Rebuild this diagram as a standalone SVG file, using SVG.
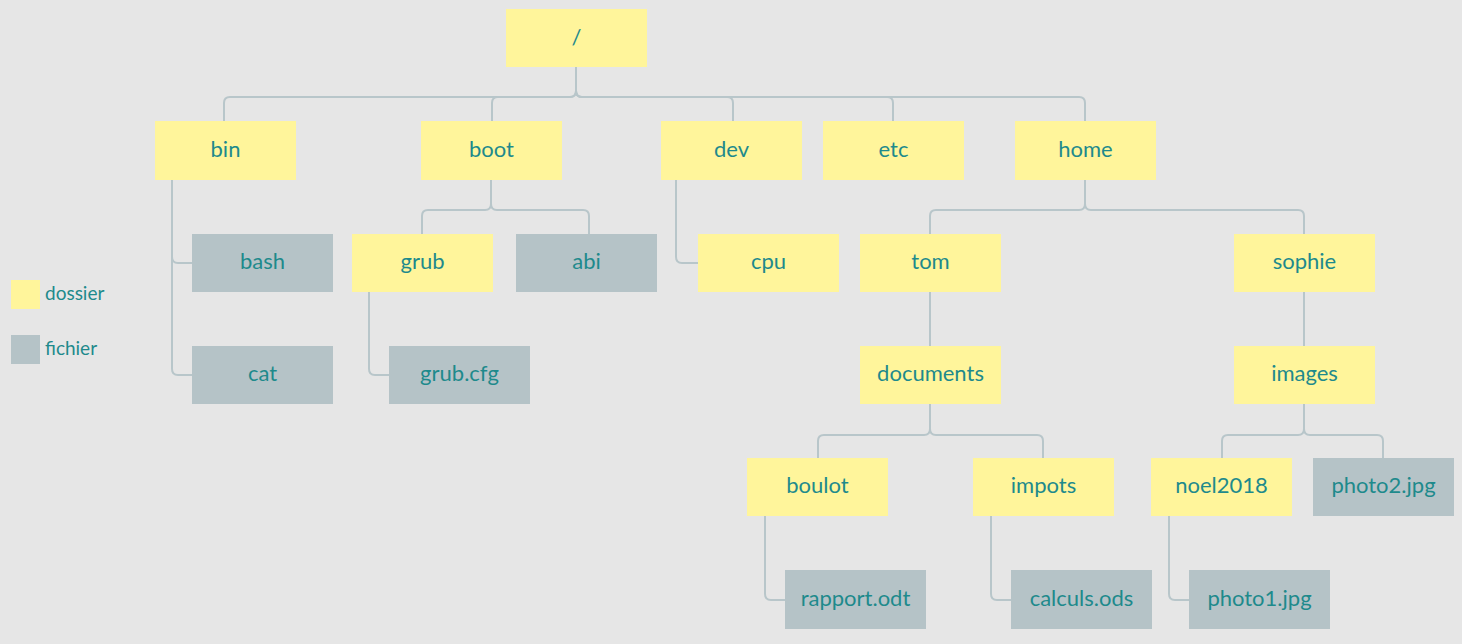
<svg xmlns="http://www.w3.org/2000/svg" width="1462" height="644" viewBox="0 0 1462 644">
<style>
.d{fill:#fff59b}
.f{fill:#b5c3c7}
text{font-family:Lato,"Open Sans","Liberation Sans",sans-serif;font-size:22px;fill:#1e8a8c;text-anchor:middle}
.lg{font-size:19px;text-anchor:start}
.c{fill:none;stroke:#b8c6ca;stroke-width:2}
</style>
<rect width="1462" height="644" fill="#e6e6e6"/>
<g id="connectors" class="c">
<path d="M576,67 V91 Q576,97 570,97 H230 Q224,97 224,103 V121"/>
<path d="M576,67 V91 Q576,97 570,97 H498 Q492,97 492,103 V121"/>
<path d="M576,67 V91 Q576,97 582,97 H727 Q733,97 733,103 V121"/>
<path d="M576,67 V91 Q576,97 582,97 H887 Q893,97 893,103 V121"/>
<path d="M576,67 V91 Q576,97 582,97 H1079 Q1085,97 1085,103 V121"/>
<path d="M491,180 V204 Q491,210 485,210 H428 Q422,210 422,216 V234"/>
<path d="M491,180 V204 Q491,210 497,210 H583 Q589,210 589,216 V234"/>
<path d="M1085,180 V204 Q1085,210 1079,210 H936 Q930,210 930,216 V234"/>
<path d="M1085,180 V204 Q1085,210 1091,210 H1298 Q1304,210 1304,216 V234"/>
<path d="M930,292 V346"/>
<path d="M1304,292 V346"/>
<path d="M930,404 V429 Q930,435 924,435 H824 Q818,435 818,441 V458"/>
<path d="M930,404 V429 Q930,435 936,435 H1037 Q1043,435 1043,441 V458"/>
<path d="M1304,404 V429 Q1304,435 1298,435 H1228 Q1222,435 1222,441 V458"/>
<path d="M1304,404 V429 Q1304,435 1310,435 H1377 Q1383,435 1383,441 V458"/>
<path d="M172,180 V257 Q172,263 178,263 H192"/>
<path d="M172,180 V369 Q172,375 178,375 H192"/>
<path d="M676,180 V257 Q676,263 682,263 H698"/>
<path d="M369,292 V369 Q369,375 375,375 H389"/>
<path d="M765,516 V594 Q765,600 771,600 H785"/>
<path d="M991,516 V594 Q991,600 997,600 H1011"/>
<path d="M1169,516 V594 Q1169,600 1175,600 H1189"/>
</g>
<g id="root"><rect class="d" x="506" y="9" width="141" height="58"/><text x="576.5" y="45">/</text></g>
<g id="bin"><rect class="d" x="155" y="121" width="141" height="59"/><text x="225.5" y="157">bin</text></g>
<g id="boot"><rect class="d" x="421" y="121" width="141" height="59"/><text x="491.5" y="157">boot</text></g>
<g id="dev"><rect class="d" x="661" y="121" width="141" height="59"/><text x="731.5" y="157">dev</text></g>
<g id="etc"><rect class="d" x="823" y="121" width="141" height="59"/><text x="893.5" y="157">etc</text></g>
<g id="home"><rect class="d" x="1015" y="121" width="141" height="59"/><text x="1085.5" y="157">home</text></g>
<g id="bash"><rect class="f" x="192" y="234" width="141" height="58"/><text x="262.5" y="269">bash</text></g>
<g id="grub"><rect class="d" x="352" y="234" width="141" height="58"/><text x="422.5" y="269">grub</text></g>
<g id="abi"><rect class="f" x="516" y="234" width="141" height="58"/><text x="586.5" y="269">abi</text></g>
<g id="cpu"><rect class="d" x="698" y="234" width="141" height="58"/><text x="768.5" y="269">cpu</text></g>
<g id="tom"><rect class="d" x="860" y="234" width="141" height="58"/><text x="930.5" y="269">tom</text></g>
<g id="sophie"><rect class="d" x="1234" y="234" width="141" height="58"/><text x="1304.5" y="269">sophie</text></g>
<g id="cat"><rect class="f" x="192" y="346" width="141" height="58"/><text x="262.5" y="381">cat</text></g>
<g id="grubcfg"><rect class="f" x="389" y="346" width="141" height="58"/><text x="459.5" y="381">grub.cfg</text></g>
<g id="documents"><rect class="d" x="860" y="346" width="141" height="58"/><text x="930.5" y="381">documents</text></g>
<g id="images"><rect class="d" x="1234" y="346" width="141" height="58"/><text x="1304.5" y="381">images</text></g>
<g id="boulot"><rect class="d" x="747" y="458" width="141" height="58"/><text x="817.5" y="493">boulot</text></g>
<g id="impots"><rect class="d" x="973" y="458" width="141" height="58"/><text x="1043.5" y="493">impots</text></g>
<g id="noel2018"><rect class="d" x="1151" y="458" width="141" height="58"/><text x="1221.5" y="493">noel2018</text></g>
<g id="photo2"><rect class="f" x="1313" y="458" width="141" height="58"/><text x="1383.5" y="493">photo2.jpg</text></g>
<g id="rapport"><rect class="f" x="785" y="570" width="141" height="59"/><text x="855.5" y="606">rapport.odt</text></g>
<g id="calculs"><rect class="f" x="1011" y="570" width="141" height="59"/><text x="1081.5" y="606">calculs.ods</text></g>
<g id="photo1"><rect class="f" x="1189" y="570" width="141" height="59"/><text x="1259.5" y="606">photo1.jpg</text></g>
<g id="legend">
<rect class="d" x="11" y="280" width="29" height="29"/><text class="lg" x="45" y="300">dossier</text>
<rect class="f" x="11" y="335" width="29" height="29"/><text class="lg" x="45" y="355">fichier</text>
</g>
</svg>
